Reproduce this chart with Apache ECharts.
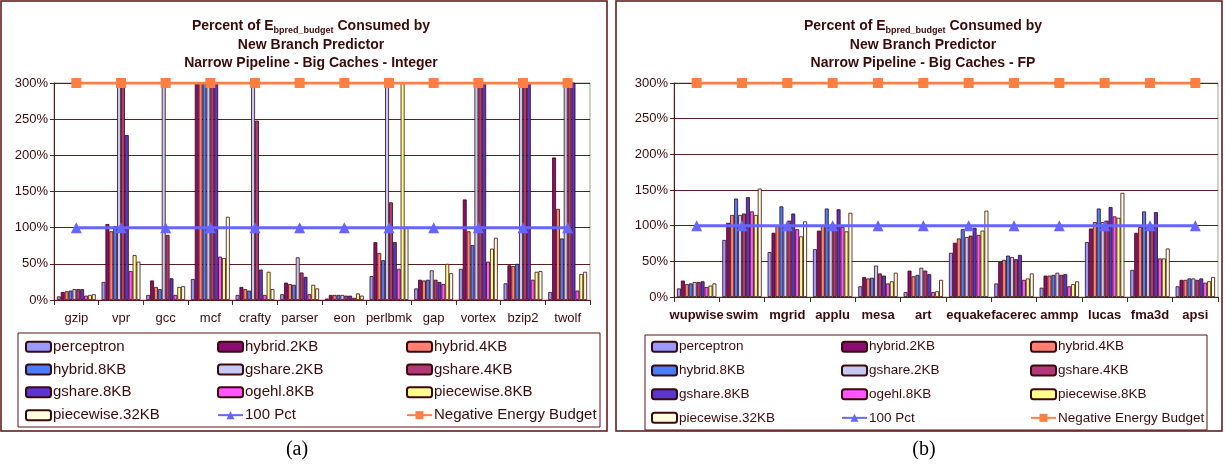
<!DOCTYPE html>
<html>
<head>
<meta charset="utf-8">
<script src="https://cdn.jsdelivr.net/npm/echarts@6/dist/echarts.min.js"></script>
<style>
  html, body { margin: 0; padding: 0; background: #fff; }
  #chart { width: 1225px; height: 465px; }
</style>
</head>
<body>
<div id="chart"></div>
<script>
// benchmarks
const intCats = ['gzip', 'vpr', 'gcc', 'mcf', 'crafty', 'parser', 'eon', 'perlbmk', 'gap', 'vortex', 'bzip2', 'twolf']
const fpCats = ['wupwise', 'swim', 'mgrid', 'applu', 'mesa', 'art', 'equake', 'facerec', 'ammp', 'lucas', 'fma3d', 'apsi']

const barNames = ['perceptron', 'hybrid.2KB', 'hybrid.4KB', 'hybrid.8KB', 'gshare.2KB', 'gshare.4KB', 'gshare.8KB', 'ogehl.8KB', 'piecewise.8KB', 'piecewise.32KB']
const barColors = ['#9999ff', '#8b0d72', '#ff8070', '#4a7cff', '#c8c8f5', '#b2387a', '#5a35d0', '#ff55ff', '#ffff8c', '#ffffe0']

// (a) integer, values in percent; bars past 300% are cut at the top of the axis
const intPerceptron = [5, 25, 7, 29, 7, 8, 2, 33, 16, 43, 23, 11]
const intHybrid2 = [11, 105, 27, 310, 18, 24, 7, 80, 28, 139, 48, 197]
const intHybrid4 = [12, 95, 18, 310, 15, 22, 7, 65, 27, 95, 47, 126]
const intHybrid8 = [13, 102, 15, 310, 13, 21, 7, 55, 28, 76, 50, 85]
const intGshare2 = [15, 310, 310, 310, 310, 59, 7, 310, 41, 310, 310, 310]
const intGshare4 = [15, 310, 90, 310, 248, 38, 6, 135, 28, 310, 310, 310]
const intGshare8 = [15, 228, 30, 310, 42, 32, 6, 80, 25, 310, 310, 310]
const intOgehl8 = [6, 40, 7, 60, 7, 8, 3, 43, 22, 53, 28, 13]
const intPiece8 = [7, 62, 18, 58, 39, 21, 9, 310, 50, 71, 39, 36]
const intPiece32 = [8, 53, 19, 115, 15, 16, 6, 101, 37, 86, 40, 39]

// (b) floating point
const fpPerceptron = [12, 80, 63, 67, 15, 7, 62, 19, 13, 77, 38, 15]
const fpHybrid2 = [23, 104, 90, 93, 28, 37, 76, 49, 30, 96, 90, 24]
const fpHybrid4 = [18, 115, 100, 101, 26, 29, 82, 52, 30, 105, 98, 24]
const fpHybrid8 = [19, 138, 127, 124, 27, 31, 95, 58, 31, 124, 120, 26]
const fpGshare2 = [21, 115, 100, 101, 44, 41, 84, 56, 34, 105, 98, 26]
const fpGshare4 = [21, 117, 107, 100, 33, 37, 86, 53, 31, 107, 98, 24]
const fpGshare8 = [22, 140, 117, 123, 30, 32, 97, 59, 32, 126, 119, 26]
const fpOgehl8 = [14, 120, 95, 98, 19, 7, 87, 24, 15, 113, 54, 20]
const fpPiece8 = [16, 115, 85, 92, 22, 8, 93, 26, 18, 111, 54, 22]
const fpPiece32 = [19, 152, 106, 118, 34, 24, 121, 33, 22, 146, 68, 28]

const hundredPct = [100, 100, 100, 100, 100, 100, 100, 100, 100, 100, 100, 100]
const budgetPct = [300, 300, 300, 300, 300, 300, 300, 300, 300, 300, 300, 300]

const intBars = [intPerceptron, intHybrid2, intHybrid4, intHybrid8, intGshare2, intGshare4, intGshare8, intOgehl8, intPiece8, intPiece32]
const fpBars = [fpPerceptron, fpHybrid2, fpHybrid4, fpHybrid8, fpGshare2, fpGshare4, fpGshare8, fpOgehl8, fpPiece8, fpPiece32]

const ink = '#3b0a0a'
const grid = '#5c1f1f'
const font = 'Liberation Sans, Arial, sans-serif'

function makeTitle(x, subtitle) {
  return {
    left: x, top: 12, textAlign: 'center',
    text: '{a|Percent of E}{s|bpred_budget}{a| Consumed by}\n{a|New Branch Predictor}\n{a|' + subtitle + '}',
    textStyle: {
      rich: {
        a: { fontFamily: font, fontSize: 14, fontWeight: 'bold', color: ink, lineHeight: 18.5 },
        s: { fontFamily: font, fontSize: 9, fontWeight: 'bold', color: ink, lineHeight: 18.5, padding: [8, 0, 0, 0] }
      }
    }
  }
}

function makeX(idx, cats, bold) {
  return {
    type: 'category', gridIndex: idx, data: cats,
    axisLine: { lineStyle: { color: grid, width: 1 } },
    axisTick: { show: true, length: 5, lineStyle: { color: grid } },
    axisLabel: { color: ink, fontFamily: font, fontSize: 13, fontWeight: bold ? 'bold' : 'normal', margin: 12, interval: 0 }
  }
}

function makeY(idx) {
  return {
    type: 'value', gridIndex: idx, min: 0, max: 300, interval: 50,
    axisLine: { show: true, lineStyle: { color: grid, width: 1 } },
    axisTick: { show: true, length: 4, lineStyle: { color: grid } },
    axisLabel: { color: ink, fontFamily: font, fontSize: 13, margin: 6, formatter: '{value}%' },
    splitLine: { lineStyle: { color: grid, width: 1 } }
  }
}

function makeSeries(idx, bars) {
  const out = bars.map((vals, i) => ({
    name: barNames[i], type: 'bar', xAxisIndex: idx, yAxisIndex: idx,
    data: vals, barGap: 0, barCategoryGap: '13%',
    itemStyle: { color: barColors[i], borderColor: '#3a0a0a', borderWidth: 0.8 },
    emphasis: { disabled: true }
  }))
  out.push({
    name: '100 Pct', type: 'line', xAxisIndex: idx, yAxisIndex: idx, data: hundredPct,
    symbol: 'triangle', symbolSize: 11, z: 5,
    lineStyle: { color: '#6666ff', width: 3 }, itemStyle: { color: '#6666ff' }
  })
  out.push({
    name: 'Negative Energy Budget', type: 'line', xAxisIndex: idx, yAxisIndex: idx, data: budgetPct,
    symbol: 'rect', symbolSize: 10, z: 5,
    lineStyle: { color: '#ff7f40', width: 3 }, itemStyle: { color: '#ff7f40' }
  })
  return out
}

const columns = [
  ['perceptron', 'hybrid.8KB', 'gshare.8KB', 'piecewise.32KB'],
  ['hybrid.2KB', 'gshare.2KB', 'ogehl.8KB', '100 Pct'],
  ['hybrid.4KB', 'gshare.4KB', 'piecewise.8KB', 'Negative Energy Budget']
]

function makeLegends(xs, top, size, gap) {
  return xs.map((x, i) => ({
    orient: 'vertical', left: x, top: top, data: columns[i], padding: 0,
    itemWidth: 25, itemHeight: 10, itemGap: gap,
    selectedMode: false,
    textStyle: { color: ink, fontFamily: font, fontSize: size, lineHeight: 17.5, padding: [0, 0, 0, -3] }
  }))
}

const chart = echarts.init(document.getElementById('chart'))
chart.setOption({
  animation: false,
  title: [
    makeTitle(306, 'Narrow Pipeline - Big Caches - Integer'),
    makeTitle(918, 'Narrow Pipeline - Big Caches - FP'),
    { text: '(a)', left: 292, top: 435, textAlign: 'center', textStyle: { fontFamily: 'Liberation Serif, serif', fontSize: 20, fontWeight: 'normal', color: '#000' } },
    { text: '(b)', left: 919, top: 435, textAlign: 'center', textStyle: { fontFamily: 'Liberation Serif, serif', fontSize: 20, fontWeight: 'normal', color: '#000' } }
  ],
  grid: [
    { left: 54, top: 83, width: 536, height: 217, show: true, borderColor: '#a49c94', borderWidth: 1 },
    { left: 674, top: 83, width: 544, height: 214, show: true, borderColor: '#a49c94', borderWidth: 1 }
  ],
  xAxis: [makeX(0, intCats, false), makeX(1, fpCats, true)],
  yAxis: [makeY(0), makeY(1)],
  legend: makeLegends([25, 217, 406], 338, 15, 5.3).concat(makeLegends([651, 841, 1030], 338, 13.5, 6.2)),
  series: makeSeries(0, intBars).concat(makeSeries(1, fpBars)),
  graphic: [
    { type: 'rect', shape: { x: 1, y: 1, width: 606, height: 430 }, style: { fill: null, stroke: '#5a1212', lineWidth: 1.5 }, silent: true },
    { type: 'rect', shape: { x: 616, y: 1, width: 606, height: 430 }, style: { fill: null, stroke: '#5a1212', lineWidth: 1.5 }, silent: true },
    { type: 'rect', shape: { x: 18, y: 333, width: 582, height: 94 }, style: { fill: null, stroke: '#5a1212', lineWidth: 1 }, silent: true },
    { type: 'rect', shape: { x: 645, y: 335, width: 562, height: 95 }, style: { fill: null, stroke: '#5a1212', lineWidth: 1 }, silent: true }
  ]
})
</script>
</body>
</html>
